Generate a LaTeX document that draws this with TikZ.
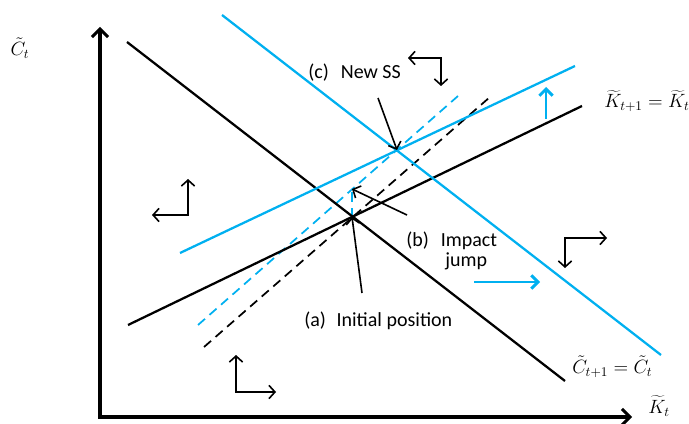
\documentclass[tikz,border=0pt]{standalone}
\usepackage{fontspec}
\setmainfont{Carlito}
\usetikzlibrary{arrows.meta}
\definecolor{cblue}{HTML}{00B0F0}
\tikzset{
  every picture/.style={x=0.75pt, y=-0.75pt},
  axis/.style={line width=2.6pt, {Straight Barb[length=6pt, width=12pt, line width=2.2pt]}-{Straight Barb[length=6pt, width=12pt, line width=2.2pt]}},
  locus/.style={draw=#1, line width=1.7pt},
  locus/.default=black,
  saddle/.style={draw=#1, line width=1.3pt, dash pattern=on 7pt off 4.5pt},
  saddle/.default=black,
  phase/.style={line width=1.2pt, {Straight Barb[length=4.5pt, width=10pt]}-{Straight Barb[length=4.5pt, width=10pt]}},
  pointer/.style={line width=1.2pt, -{Straight Barb[length=4.5pt, width=10pt]}},
  moveup/.style={draw=cblue, line width=2.2pt, -{Straight Barb[length=5pt, width=10pt]}},
  txt/.style={font=\fontsize{15}{17}\selectfont, inner sep=0pt},
  mlbl/.style={font=\fontsize{14}{16}\selectfont, inner sep=0pt},
}

\begin{document}
\begin{tikzpicture}
  \useasboundingbox (0,0) rectangle (689,424);
  % axes
  \coordinate (ytop) at (100,27);
  \coordinate (xend) at (632,417);
  \draw[axis] (ytop) |- (xend);
  \node[mlbl] (ylab) at (20,48) {$\tilde C_t$};
  \node[mlbl] (xlab) at (659,406) {$\widetilde K_t$};

  % loci and saddle paths
  \coordinate (cc1) at (127,42);  \coordinate (cc2) at (565,381);
  \coordinate (kk1) at (128,325); \coordinate (kk2) at (582,106);
  \coordinate (bc1) at (222,15);  \coordinate (bc2) at (661,355);
  \coordinate (bk1) at (180,253); \coordinate (bk2) at (575,66);
  \coordinate (sp1) at (204,347); \coordinate (sp2) at (490,97);
  \coordinate (bs1) at (198,325); \coordinate (bs2) at (458,96);
  \coordinate (init) at (352,217);
  \coordinate (jump) at (352,189);
  \coordinate (newss) at (397,150);
  \draw[saddle] (sp1) -- (sp2);
  \draw[saddle=cblue] (bs1) -- (bs2);
  \draw[saddle=cblue] (init) -- (jump);
  \draw[locus] (cc1) -- (cc2);
  \draw[locus] (kk1) -- (kk2);
  \draw[locus=cblue] (bc1) -- (bc2);
  \draw[locus=cblue] (bk1) -- (bk2);
  \node[mlbl, anchor=west] (klocus) at (604,101) {$\widetilde K_{t+1} = \widetilde K_t$};
  \node[mlbl, anchor=west] (clocus) at (572,367) {$\tilde C_{t+1} = \tilde C_t$};

  % shifts of the loci
  \coordinate (up0) at (546,119);  \coordinate (up1) at (546,87);
  \coordinate (rt0) at (474,282);  \coordinate (rt1) at (540,282);
  \draw[moveup] (up0) -- (up1);
  \draw[moveup] (rt0) -- (rt1);

  % phase arrows
  \coordinate (pa1) at (188,179); \coordinate (pa2) at (152,215);
  \coordinate (pb1) at (236,355); \coordinate (pb2) at (276,392);
  \coordinate (pc1) at (565,268); \coordinate (pc2) at (607,238);
  \coordinate (pd1) at (441,86);  \coordinate (pd2) at (408,58);
  \draw[phase] (pa1) |- (pa2);
  \draw[phase] (pb1) |- (pb2);
  \draw[phase] (pc1) |- (pc2);
  \draw[phase] (pd1) |- (pd2);

  % labels
  \node[txt, anchor=base west] (lblc) at (308,79) {(c)\hspace{9pt}New SS};
  \node[txt, anchor=base west] (lblb) at (406,246) {(b)\hspace{9pt}Impact};
  \node[txt, anchor=base west] (lblj) at (445,267) {jump};
  \node[txt, anchor=base west] (lbla) at (304,326) {(a)\hspace{8pt}Initial position};
  \coordinate (c0) at (378,98);  \draw[pointer] (c0) -- (newss);
  \coordinate (b0) at (407,215); \draw[pointer] (b0) -- (jump);
  \coordinate (a0) at (362,293); \draw[pointer] (a0) -- (init);
\end{tikzpicture}
\end{document}
